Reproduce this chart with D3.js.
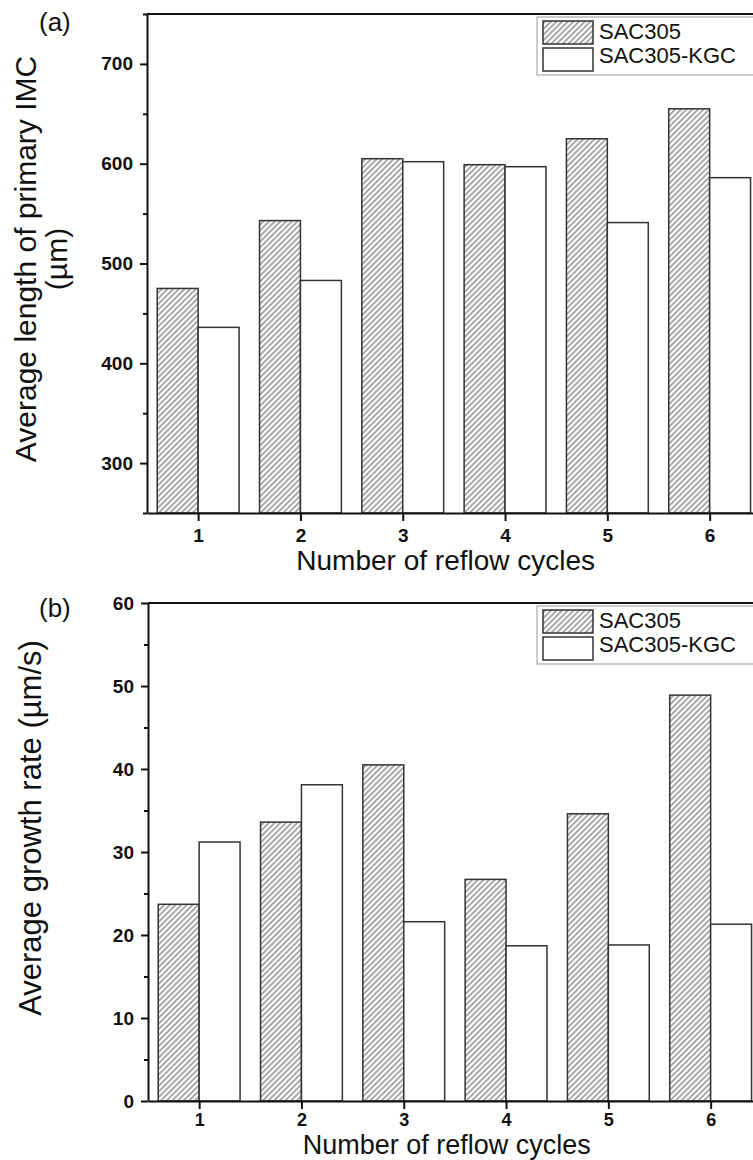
<!DOCTYPE html>
<html>
<head>
<meta charset="utf-8">
<script src="https://cdn.jsdelivr.net/npm/d3@7"></script>
<style>
    body { margin: 0; background: #fff; }
    svg { display: block; font-family: "Liberation Sans", Arial, sans-serif; }
</style>
</head>
<body>
<svg id="chart"></svg>
<script>
// Data
const cycles = [1, 2, 3, 4, 5, 6];
const seriesNames = ['SAC305', 'SAC305-KGC'];

const imcLengthSAC = [475, 543, 605, 599, 625, 655];
const imcLengthKGC = [436, 483, 602, 597, 541, 586];
const lengthTicks = [300, 400, 500, 600, 700];
const lengthMinorTicks = [250, 350, 450, 550, 650, 750];

const growthRateSAC = [23.7, 33.6, 40.5, 26.7, 34.6, 48.9];
const growthRateKGC = [31.2, 38.1, 21.6, 18.7, 18.8, 21.3];
const rateTicks = [0, 10, 20, 30, 40, 50, 60];
const rateMinorTicks = [5, 15, 25, 35, 45, 55];

const svg = d3.select('#chart')
    .attr('width', 753)
    .attr('height', 1160);

// Hatch pattern for SAC305 bars
svg.append('defs').append('pattern')
    .attr('id', 'hatch')
    .attr('patternUnits', 'userSpaceOnUse')
    .attr('width', 4)
    .attr('height', 4)
    .attr('patternTransform', 'rotate(45)')
    .call(p => {
        p.append('rect').attr('width', 4).attr('height', 4).attr('fill', '#fff');
        p.append('line')
            .attr('x1', 1).attr('y1', 0).attr('x2', 1).attr('y2', 4)
            .attr('stroke', '#7a7a7a')
            .attr('stroke-width', 1.3);
    });

function drawPanel(cfg) {
    const width = 6 * 102.3;
    const height = cfg.height;

    const g = svg.append('g')
        .attr('transform', `translate(${cfg.left}, ${cfg.top})`);

    let x = d3.scaleLinear()
        .domain([0.5, 6.5])
        .range([0, width]);

    let y = d3.scaleLinear()
        .domain(cfg.domain)
        .range([height, 0]);

    const rows = cycles.map((c, i) => ({ c: c, a: cfg.sac[i], b: cfg.kgc[i] }));

    // bars
    g.selectAll('.bar-sac')
        .data(rows)
        .enter()
        .append('rect')
        .attr('class', 'bar-sac')
        .attr('x', d => x(d.c - 0.4))
        .attr('y', d => y(d.a))
        .attr('width', d => x(d.c) - x(d.c - 0.4))
        .attr('height', d => height - y(d.a))
        .attr('fill', 'url(#hatch)')
        .attr('stroke', '#333')
        .attr('stroke-width', 1.5);

    g.selectAll('.bar-kgc')
        .data(rows)
        .enter()
        .append('rect')
        .attr('class', 'bar-kgc')
        .attr('x', d => x(d.c))
        .attr('y', d => y(d.b))
        .attr('width', d => x(d.c + 0.4) - x(d.c))
        .attr('height', d => height - y(d.b))
        .attr('fill', '#fff')
        .attr('stroke', '#333')
        .attr('stroke-width', 1.5);

    // top frame line
    g.append('line')
        .attr('x1', 0).attr('x2', width)
        .attr('y1', 0).attr('y2', 0)
        .attr('stroke', '#111')
        .attr('stroke-width', 2);

    // minor ticks
    g.append('g')
        .attr('class', 'y-minor')
        .call(d3.axisLeft(y).tickValues(cfg.minor).tickSize(4).tickFormat(''))
        .call(a => a.select('.domain').remove());

    g.append('g')
        .attr('class', 'y-axis')
        .call(d3.axisLeft(y).tickValues(cfg.ticks).tickSize(7).tickPadding(7).tickSizeOuter(0));

    g.append('g')
        .attr('class', 'x-axis')
        .attr('transform', `translate(0, ${height})`)
        .call(d3.axisBottom(x).tickValues(cycles).tickFormat(d3.format('d'))
            .tickSize(8).tickPadding(cfg.xTickPad).tickSizeOuter(0));

    g.selectAll('.domain, .tick line')
        .attr('stroke', '#111')
        .attr('stroke-width', 2);

    g.selectAll('.y-axis text, .x-axis text')
        .attr('fill', '#111')
        .style('font-size', '19px')
        .style('font-weight', 'bold');

    g.selectAll('.x-axis text')
        .style('font-size', cfg.xTickSize + 'px');

    // x axis title
    g.append('text')
        .attr('x', x(3.42))
        .attr('y', height + cfg.xTitleOffset)
        .attr('text-anchor', 'middle')
        .style('font-size', cfg.xTitleSize + 'px')
        .attr('fill', '#111')
        .text('Number of reflow cycles');

    // y axis title (one or two lines)
    cfg.yTitle.forEach((line, i) => {
        g.append('text')
            .attr('transform', `translate(${cfg.yTitleX[i] - cfg.left}, ${cfg.yTitleY}) rotate(-90)`)
            .attr('text-anchor', 'middle')
            .style('font-size', cfg.yTitleSize + 'px')
            .attr('fill', '#111')
            .text(line);
    });

    // panel label
    svg.append('text')
        .attr('x', 39)
        .attr('y', cfg.top + cfg.labelDy)
        .style('font-size', '26px')
        .attr('fill', '#111')
        .text(cfg.label);

    // legend
    const lg = g.append('g')
        .attr('transform', `translate(${537 - cfg.left}, 3)`);

    lg.append('rect')
        .attr('width', 240)
        .attr('height', 58)
        .attr('fill', '#fff')
        .attr('stroke', '#999')
        .attr('stroke-width', 1);

    seriesNames.forEach((name, i) => {
        lg.append('rect')
            .attr('x', 6)
            .attr('y', 4 + i * 27)
            .attr('width', 50)
            .attr('height', 23)
            .attr('fill', i === 0 ? 'url(#hatch)' : '#fff')
            .attr('stroke', '#333')
            .attr('stroke-width', 1.5);

        lg.append('text')
            .attr('x', 62)
            .attr('y', 22 + i * 24)
            .style('font-size', '22px')
            .attr('fill', '#111')
            .text(name);
    });
}

drawPanel({
    label: '(a)',
    labelDy: 17,
    top: 14,
    left: 147,
    height: 499,
    domain: [250, 750],
    ticks: lengthTicks,
    minor: lengthMinorTicks,
    sac: imcLengthSAC,
    kgc: imcLengthKGC,
    yTitle: ['Average length of primary IMC', '(µm)'],
    yTitleX: [36, 67],
    yTitleY: 245,
    yTitleSize: 30,
    xTickPad: 8,
    xTickSize: 19,
    xTitleSize: 28,
    xTitleOffset: 57
});

drawPanel({
    label: '(b)',
    labelDy: 14,
    top: 603,
    left: 148,
    height: 498,
    domain: [0, 60],
    ticks: rateTicks,
    minor: rateMinorTicks,
    sac: growthRateSAC,
    kgc: growthRateKGC,
    yTitle: ['Average growth rate (µm/s)'],
    yTitleX: [41],
    yTitleY: 225,
    yTitleSize: 31,
    xTickPad: 4,
    xTickSize: 18,
    xTitleSize: 27,
    xTitleOffset: 53
});
</script>
</body>
</html>
